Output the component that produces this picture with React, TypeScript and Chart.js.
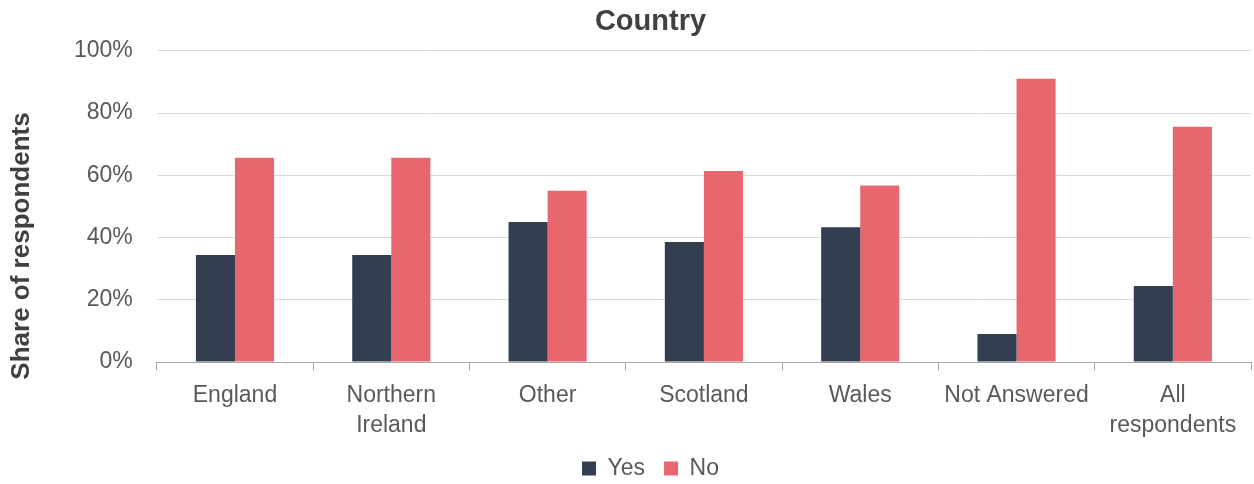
import React, { useEffect, useRef } from "react";
import { Chart, registerables } from "chart.js";

Chart.register(...registerables);

const categories: (string | string[])[] = [
  "England",
  ["Northern", "Ireland"],
  "Other",
  "Scotland",
  "Wales",
  "Not Answered",
  ["All", "respondents"],
];
const yesValues = [34.4, 34.4, 45.0, 38.6, 43.3, 9.0, 24.4];
const noValues = [65.6, 65.6, 55.0, 61.4, 56.7, 91.0, 75.6];
const yTicks = [0, 20, 40, 60, 80, 100];

const FONT = "'Liberation Sans', Arial, Helvetica, sans-serif";

const yTitlePlugin = {
  id: "yTitlePlugin",
  afterDraw(chart: any) {
    const ctx = chart.ctx;
    ctx.save();
    ctx.translate(22, 246);
    ctx.rotate(-Math.PI / 2);
    ctx.font = `bold 26px ${FONT}`;
    ctx.fillStyle = "#404040";
    ctx.textAlign = "center";
    ctx.textBaseline = "middle";
    ctx.fillText("Share of respondents", 0, 0);
    ctx.restore();
  },
};

export default function App() {
  const ref = useRef<HTMLCanvasElement | null>(null);
  useEffect(() => {
    if (!ref.current) return;
    const chart = new Chart(ref.current, {
      type: "bar",
      data: {
        labels: categories,
        datasets: [
          { label: "Yes", data: yesValues, backgroundColor: "#333F50", categoryPercentage: 0.5, barPercentage: 1 },
          { label: "No", data: noValues, backgroundColor: "#E8666D", categoryPercentage: 0.5, barPercentage: 1 },
        ],
      },
      options: {
        animation: false,
        responsive: true,
        maintainAspectRatio: false,
        layout: { padding: { left: 50, right: 3, top: 0, bottom: -6 } },
        plugins: {
          title: {
            display: true,
            text: "Country",
            color: "#404040",
            font: { family: FONT, size: 29, weight: "bold" },
            padding: { top: 5, bottom: 11 },
          },
          legend: {
            position: "bottom",
            labels: {
              color: "#595959",
              font: { family: FONT, size: 23 },
              boxWidth: 14,
              boxHeight: 14,
              padding: 19,
            },
          },
          tooltip: { enabled: false },
        },
        scales: {
          x: {
            grid: { display: true, drawOnChartArea: false, drawTicks: true, tickLength: 8, color: "#A6A6A6", offset: true },
            border: { display: true, color: "#A6A6A6", width: 1 },
            ticks: { color: "#595959", font: { family: FONT, size: 23, lineHeight: 1.3 }, padding: 11, maxRotation: 0 },
            afterFit(scale: any) {
              scale.height = 76;
            },
          },
          y: {
            min: 0,
            max: 100,
            afterBuildTicks(scale: any) {
              scale.ticks = yTicks.map((v) => ({ value: v }));
            },
            grid: { color: "#D9D9D9", drawTicks: false, lineWidth: 1 },
            border: { display: false },
            ticks: {
              color: "#595959",
              font: { family: FONT, size: 23 },
              padding: 24,
              callback: (v: any) => `${v}%`,
            },
          },
        },
      },
      plugins: [yTitlePlugin],
    });
    return () => chart.destroy();
  }, []);
  return (
    <div style={{ position: "fixed", left: 0, top: 0, width: 1254, height: 484, background: "#fff" }}>
      <canvas ref={ref} />
    </div>
  );
}
